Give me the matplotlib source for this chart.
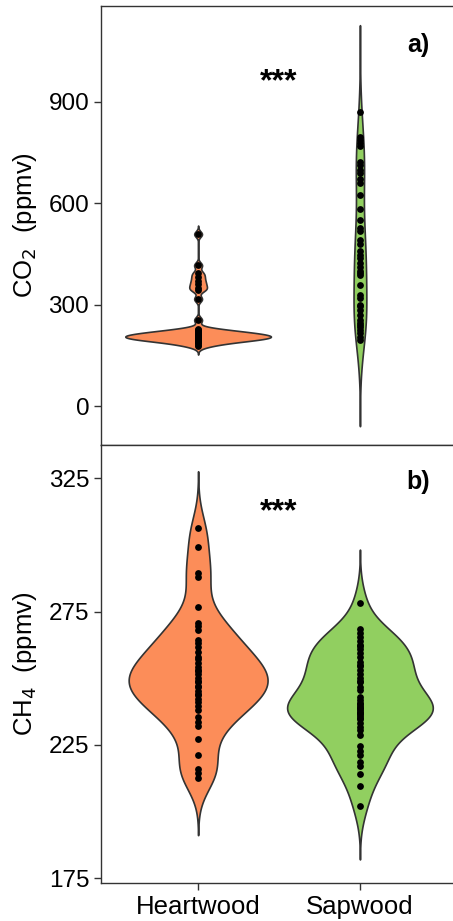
import numpy as np
import matplotlib.pyplot as plt

plt.rcParams['font.family'] = ['Liberation Sans', 'DejaVu Sans']

groups = ['Heartwood', 'Sapwood']
colors = ['#FC8D59', '#91CF60']

# CO2 (ppmv)
co2_heart = [509, 417, 394, 382, 370, 360, 350, 343, 317, 255,
             178, 182, 186, 189, 191, 193, 195, 196, 197, 198, 199, 200, 201,
             202, 203, 204, 205, 206, 207, 208, 209, 210, 211, 212, 213, 214,
             215, 216, 218, 220, 222, 224, 226, 228]
co2_sap = [871, 797, 787, 778, 770, 723, 714, 699, 689, 671, 661, 625, 582,
           551, 526, 519, 491, 480, 460, 447, 437, 424, 412, 400, 395, 388,
           358, 329, 319, 300, 296, 284, 269, 255, 245, 240, 235, 225, 215,
           205, 197]

# CH4 (ppmv)
ch4_heart = [306.3, 299.1, 289.4, 287.9, 276.9, 270.9, 269.6, 268.1, 264.4,
             263.1, 261.6, 260.0, 258.0, 257.1, 255.6, 254.1, 253.0, 252.9,
             251.6, 250.0, 249.0, 248.5, 247.0, 246.9, 245.4, 244.0, 243.8,
             242.1, 241.0, 239.6, 238.1, 235.6, 233.7, 232.1, 227.1, 221.2,
             215.9, 214.4, 212.5]
ch4_sap = [278.4, 268.4, 267.1, 265.6, 264.1, 262.5, 262.0, 260.9, 259.4,
           257.9, 256.2, 255.0, 254.6, 253.1, 251.6, 250.0, 249.0, 248.5,
           246.9, 245.6, 243.0, 241.9, 240.8, 240.4, 239.5, 239.0, 238.8,
           238.0, 237.5, 237.0, 236.5, 236.0, 235.0, 234.6, 233.4, 231.9,
           230.4, 228.8, 224.4, 222.8, 221.2, 218.7, 217.1, 214.1, 209.4,
           201.9]


def kde(vals):
    v = np.asarray(vals, float)
    q75, q25 = np.percentile(v, [75, 25])
    bw = 0.9 * min(v.std(ddof=1), (q75 - q25) / 1.34) * len(v) ** -0.2
    grid = np.linspace(v.min() - 3 * bw, v.max() + 3 * bw, 512)
    d = np.exp(-0.5 * ((grid[:, None] - v[None, :]) / bw) ** 2).sum(1)
    d /= len(v) * bw * np.sqrt(2 * np.pi)
    return grid, d


def violins(ax, data):
    dens = [kde(d) for d in data]
    dmax = max(d.max() for _, d in dens)
    for i, ((g, d), vals) in enumerate(zip(dens, data)):
        x = i + 1
        w = 0.45 * d / dmax
        ax.fill_betweenx(g, x - w, x + w, facecolor=colors[i],
                         edgecolor='#333333', linewidth=1.2, zorder=2)
        ax.scatter(np.full(len(vals), x), vals, s=24, color='black',
                   zorder=3, linewidths=0)


fig = plt.figure(figsize=(4.53, 9.21), dpi=100)
ax1 = fig.add_axes([0.223, 0.5168, 0.777, 0.4767])
ax2 = fig.add_axes([0.223, 0.0413, 0.777, 0.4755])

violins(ax1, [co2_heart, co2_sap])
violins(ax2, [ch4_heart, ch4_sap])

for ax in (ax1, ax2):
    ax.set_xlim(0.4, 2.575)
    ax.set_xticks([1, 2])
    ax.tick_params(axis='both', length=5, width=1, color='#333333',
                   labelcolor='black')
    ax.tick_params(axis='y', labelsize=17.5)
    ax.tick_params(axis='x', labelsize=18.5)
    for s in ax.spines.values():
        s.set_color('#333333')
        s.set_linewidth(1)
    ax.spines['right'].set_visible(False)
    ax.yaxis.set_label_coords(-0.176, 0.5)

ax1.set_ylim(-115, 1184)
ax1.set_yticks([0, 300, 600, 900])
ax1.set_xticklabels([])
ax1.tick_params(axis='x', length=0)
ax1.set_ylabel('CO$_2$  (ppmv)', fontsize=18.5)
ax1.text(1.5, 935, '***', fontsize=23, fontweight='bold', ha='center', va='baseline')
ax1.text(2.36, 1069, 'a)', fontsize=18, fontweight='bold', ha='center', va='center')

ax2.set_ylim(173.2, 337.5)
ax2.set_yticks([175, 225, 275, 325])
ax2.set_xticklabels(groups)
ax2.set_ylabel('CH$_4$  (ppmv)', fontsize=18.5)
ax2.text(1.5, 309.4, '***', fontsize=23, fontweight='bold', ha='center', va='baseline')
ax2.text(2.36, 323.6, 'b)', fontsize=18, fontweight='bold', ha='center', va='center')

fig.savefig('out.png', dpi=100)
